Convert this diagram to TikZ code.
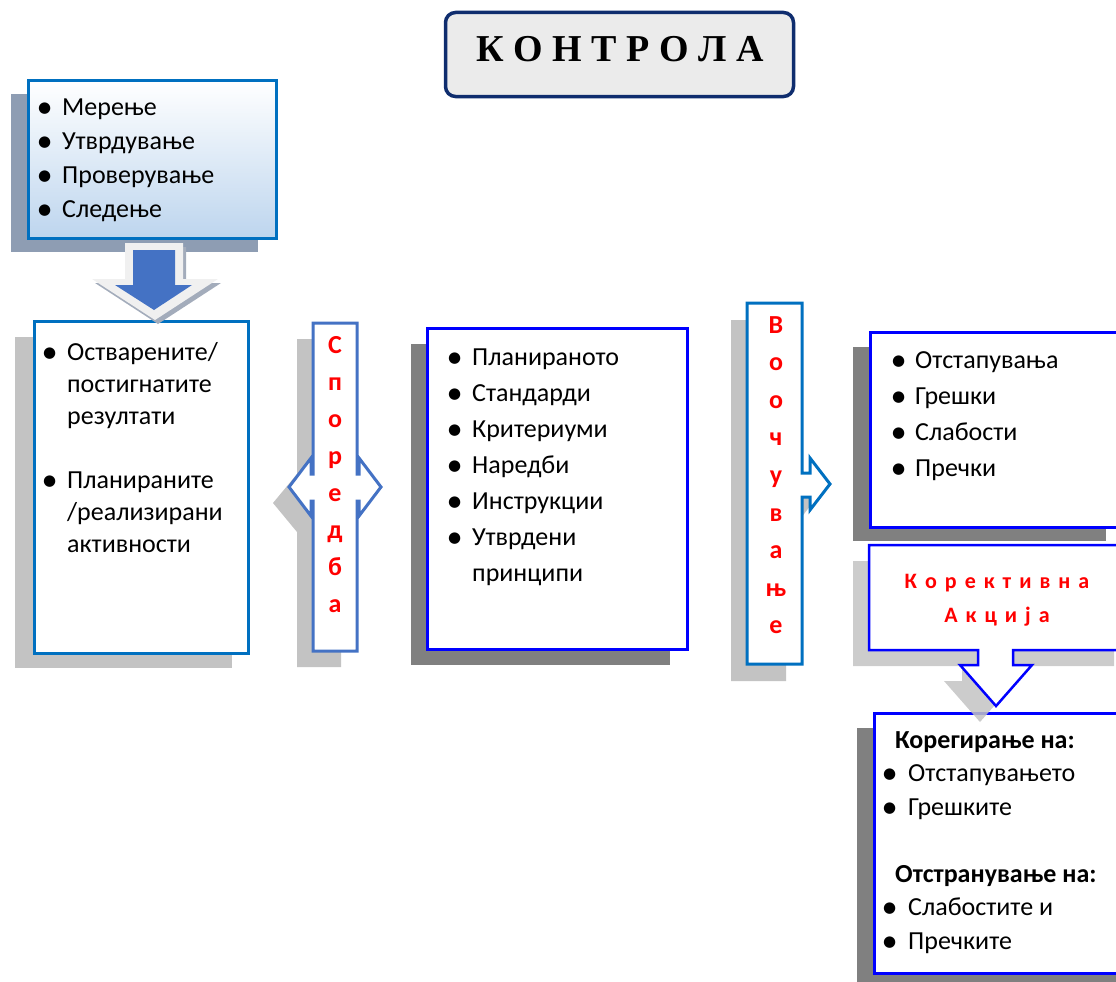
\documentclass[tikz,border=0pt]{standalone}
\usepackage{fontspec}
\setmainfont{Carlito}
\newfontfamily\titelfont{Liberation Serif}
\newfontfamily\symbfont{DejaVu Sans}
\usetikzlibrary{calc}
\definecolor{navy}{HTML}{0F2D6E}
\definecolor{titelgrau}{HTML}{EBEBEB}
\definecolor{mblau}{HTML}{0070C0}
\definecolor{hblau}{HTML}{4472C4}
\definecolor{rblau}{HTML}{0000FF}
\definecolor{verlauf}{HTML}{BDD5EE}
\definecolor{schatten}{HTML}{808080}
\definecolor{hschatten}{HTML}{C3C3C3}
\definecolor{bschatten}{HTML}{8E9DB3}
\definecolor{pfeilgrau}{HTML}{F0F0F0}
\definecolor{pfeilrand}{HTML}{A3ACBB}
\newcommand{\punkt}{\raisebox{3pt}{\symbfont\fontsize{15}{15}\selectfont ●}}

\begin{document}
\begin{tikzpicture}[x=1pt,y=-1pt,
  kasten/.style={draw=#1,fill=white,line width=2.5pt,anchor=north west,inner sep=0pt},
  liste/.style={anchor=base west,inner sep=0pt,font=\fontsize{26}{36}\selectfont},
  buchst/.style={anchor=base,inner sep=0pt,text=red,font=\bfseries\fontsize{26}{37}\selectfont}]
  \useasboundingbox (0,0) rectangle (1116,982);
  \clip (0,0) rectangle (1116,982);
  % Titel
  \node[draw=navy,fill=titelgrau,line width=3.5pt,rounded corners=10pt,
    minimum width=348pt,minimum height=84pt] (kontrola) at (619.5,54.5) {};
  \node[anchor=base,inner sep=0pt,font=\titelfont\bfseries\fontsize{38}{40}\selectfont]
    (kontrolatxt) at (620,62) {К О Н Т Р О Л А};
  % Merenje
  \fill[bschatten] (11,94) rectangle (258,252);
  \node[kasten=mblau,line width=3pt,top color=white,bottom color=verlauf,
    minimum width=248pt,minimum height=158pt] (merenje) at (27,79) {};
  \node[liste,font=\fontsize{26}{34}\selectfont] (merenjetxt) at (38,115) {%
    \begin{tabular}[t]{@{}p{24pt}@{}l@{}}
      \punkt & Мерење\\
      \punkt & Утврдување\\
      \punkt & Проверување\\
      \punkt & Следење
    \end{tabular}};
  % Ostvareni
  \fill[hschatten] (15,337) rectangle (232,668);
  \node[kasten=mblau,line width=3pt,minimum width=214pt,minimum height=332pt]
    (ostvareni) at (33,320) {};
  \node[liste,font=\fontsize{26}{32}\selectfont] (ostvarenitxt) at (43,360) {%
    \begin{tabular}[t]{@{}p{24pt}@{}l@{}}
      \punkt & Остварените/\\
      & постигнатите\\
      & резултати\\
      & \\
      \punkt & Планираните\\
      & /реализирани\\
      & активности
    \end{tabular}};
  % Pfeil nach unten
  \begin{scope}[shift={(3,4)}]
    \fill[pfeilrand] (125,243) -- (183,243) -- (183,279) -- (218,279) -- (155,320)
      -- (92,279) -- (125,279) -- cycle;
  \end{scope}
  \fill[pfeilgrau] (125,243) -- (183,243) -- (183,279) -- (218,279) -- (155,320)
    -- (92,279) -- (125,279) -- cycle;
  \fill[hblau] (133,250) -- (175,250) -- (175,285) -- (192,285) -- (154,310)
    -- (115,285) -- (133,285) -- cycle;
  % Sporedba
  \begin{scope}[shift={(-16,16)}]
    \fill[hschatten] (313,323) -- (357,323) -- (357,651) -- (313,651) -- (313,516)
      -- (289,487) -- (313,458) -- cycle;
  \end{scope}
  \draw[hblau,fill=white,line width=3pt] (313,323) -- (357,323) -- (357,474) -- (359,474)
    -- (359,458) -- (381,487) -- (359,516) -- (359,501) -- (357,501) -- (357,651)
    -- (313,651) -- (313,501) -- (311,501) -- (311,516) -- (289,487) -- (311,458)
    -- (311,474) -- (313,474) -- cycle;
  \node[buchst] (sporedba) at (335,353) {%
    \begin{tabular}[t]{@{}c@{}}С\\п\\о\\р\\е\\д\\б\\а\end{tabular}};
  % Plan
  \fill[schatten] (411,344) rectangle (670,665);
  \node[kasten=rblau,minimum width=260pt,minimum height=321pt] (plan) at (426,327) {};
  \node[liste] (plantxt) at (448,365) {%
    \begin{tabular}[t]{@{}p{24pt}@{}l@{}}
      \punkt & Планираното\\
      \punkt & Стандарди\\
      \punkt & Критериуми\\
      \punkt & Наредби\\
      \punkt & Инструкции\\
      \punkt & Утврдени\\
      & принципи
    \end{tabular}};
  % Voocuvanje
  \begin{scope}[shift={(-16,17)}]
    \fill[hschatten] (747,303) -- (802,303) -- (802,473) -- (810,473) -- (810,458)
      -- (830,484) -- (810,510) -- (810,497) -- (802,497) -- (802,664) -- (747,664) -- cycle;
  \end{scope}
  \draw[mblau,fill=white,line width=3pt] (747,303) -- (802,303) -- (802,473) -- (810,473)
    -- (810,458) -- (830,484) -- (810,510) -- (810,497) -- (802,497) -- (802,664)
    -- (747,664) -- cycle;
  \node[buchst,font=\bfseries\fontsize{26}{37.6}\selectfont] (voocuvanje) at (776,333) {%
    \begin{tabular}[t]{@{}c@{}}В\\о\\о\\ч\\у\\в\\а\\њ\\е\end{tabular}};
  % Otstapuvanja
  \fill[schatten] (853,347) rectangle (1106,541);
  \node[kasten=rblau,minimum width=262pt,minimum height=195pt] (otstap) at (869,331) {};
  \node[liste] (otstaptxt) at (892,368) {%
    \begin{tabular}[t]{@{}p{23pt}@{}l@{}}
      \punkt & Отстапувања\\
      \punkt & Грешки\\
      \punkt & Слабости\\
      \punkt & Пречки
    \end{tabular}};
  % Koregiranje
  \fill[schatten] (857,728) rectangle (1130,990);
  \node[kasten=rblau,minimum width=258pt,minimum height=260pt] (koregiranje) at (873,712) {};
  \node[liste,font=\fontsize{26}{33.5}\selectfont] (koregiranjetxt) at (883,748) {%
    \begin{tabular}[t]{@{}p{25pt}@{}l@{}}
      \multicolumn{2}{@{}l@{}}{\hspace{12pt}\bfseries Корегирање на:}\\
      \punkt & Отстапувањето\\
      \punkt & Грешките\\
      & \\
      \multicolumn{2}{@{}l@{}}{\hspace{12pt}\bfseries Отстранување на:}\\
      \punkt & Слабостите и\\
      \punkt & Пречките
    \end{tabular}};
  % Korektivna akcija
  \begin{scope}[shift={(-16,16)}]
    \fill[hschatten,opacity=0.85] (869,545) -- (1130,545) -- (1130,650) -- (1013,650)
      -- (1013,665) -- (1032,665) -- (996,706) -- (960,665) -- (978,665) -- (978,650)
      -- (869,650) -- cycle;
  \end{scope}
  \draw[rblau,fill=white,line width=2.5pt] (869,545) -- (1130,545) -- (1130,650) -- (1013,650)
    -- (1013,665) -- (1032,665) -- (996,706) -- (960,665) -- (978,665) -- (978,650)
    -- (869,650) -- cycle;
  \node[buchst,font=\bfseries\fontsize{22}{34}\selectfont] (korektivna) at (997,588) {%
    \spaceskip=8pt\begin{tabular}[t]{@{}c@{}}К о р е к т и в н а\\А к ц и ј а\end{tabular}};
\end{tikzpicture}
\end{document}
